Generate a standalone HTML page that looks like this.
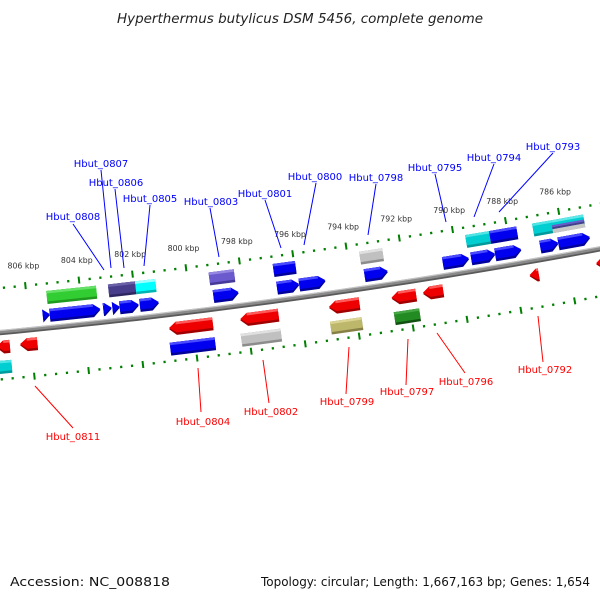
<!DOCTYPE html>
<html><head><meta charset="utf-8"><title>Hyperthermus butylicus genome map</title>
<style>
html,body{margin:0;padding:0;background:#fff;}
svg{display:block;font-family:"DejaVu Sans","Liberation Sans",sans-serif;}
</style></head>
<body>
<svg id="chart" width="600" height="600" viewBox="0 0 600 600" xmlns="http://www.w3.org/2000/svg">
<rect width="600" height="600" fill="#fff"/>
<text x="300" y="23" text-anchor="middle" font-size="13" font-style="italic" fill="#222" textLength="366" lengthAdjust="spacingAndGlyphs">Hyperthermus butylicus DSM 5456, complete genome</text>
<g id="axis"></g>
<g id="genes"></g>
<g id="labels">
 <g fill="#0000ff" font-size="10" text-anchor="middle">
  <line x1="101" y1="170" x2="111" y2="268" stroke="#0000ff" stroke-width="1"/>
  <text x="101" y="167">Hbut_0807</text>
  <line x1="115" y1="189" x2="124" y2="268" stroke="#0000ff" stroke-width="1"/>
  <text x="116" y="186">Hbut_0806</text>
  <line x1="150" y1="205" x2="144" y2="266" stroke="#0000ff" stroke-width="1"/>
  <text x="150" y="202">Hbut_0805</text>
  <line x1="73" y1="224" x2="104" y2="270" stroke="#0000ff" stroke-width="1"/>
  <text x="73" y="220">Hbut_0808</text>
  <line x1="210" y1="208" x2="219" y2="257" stroke="#0000ff" stroke-width="1"/>
  <text x="211" y="205">Hbut_0803</text>
  <line x1="265" y1="200" x2="281" y2="248" stroke="#0000ff" stroke-width="1"/>
  <text x="265" y="197">Hbut_0801</text>
  <line x1="316" y1="183" x2="304" y2="245" stroke="#0000ff" stroke-width="1"/>
  <text x="315" y="180">Hbut_0800</text>
  <line x1="376" y1="184" x2="368" y2="235" stroke="#0000ff" stroke-width="1"/>
  <text x="376" y="181">Hbut_0798</text>
  <line x1="435" y1="174" x2="446" y2="222" stroke="#0000ff" stroke-width="1"/>
  <text x="435" y="171">Hbut_0795</text>
  <line x1="494" y1="164" x2="474" y2="217" stroke="#0000ff" stroke-width="1"/>
  <text x="494" y="161">Hbut_0794</text>
  <line x1="553" y1="153" x2="499" y2="212" stroke="#0000ff" stroke-width="1"/>
  <text x="553" y="150">Hbut_0793</text>
 </g>
 <g fill="#ff0000" font-size="10" text-anchor="middle">
  <line x1="35" y1="386" x2="73" y2="428" stroke="#ff0000" stroke-width="1"/>
  <text x="73" y="440">Hbut_0811</text>
  <line x1="198" y1="368" x2="201" y2="412" stroke="#ff0000" stroke-width="1"/>
  <text x="203" y="425">Hbut_0804</text>
  <line x1="263" y1="360" x2="269" y2="403" stroke="#ff0000" stroke-width="1"/>
  <text x="271" y="415">Hbut_0802</text>
  <line x1="349" y1="347" x2="346" y2="394" stroke="#ff0000" stroke-width="1"/>
  <text x="347" y="405">Hbut_0799</text>
  <line x1="408" y1="339" x2="406" y2="385" stroke="#ff0000" stroke-width="1"/>
  <text x="407" y="395">Hbut_0797</text>
  <line x1="437" y1="333" x2="465" y2="373" stroke="#ff0000" stroke-width="1"/>
  <text x="466" y="385">Hbut_0796</text>
  <line x1="538" y1="316" x2="543" y2="362" stroke="#ff0000" stroke-width="1"/>
  <text x="545" y="373">Hbut_0792</text>
 </g>
</g>
<text x="10" y="586" font-size="12.5" fill="#111" textLength="160" lengthAdjust="spacingAndGlyphs">Accession: NC_008818</text>
<text x="590" y="586" font-size="12.5" fill="#111" text-anchor="end" textLength="329" lengthAdjust="spacingAndGlyphs">Topology: circular; Length: 1,667,163 bp; Genes: 1,654</text>
</svg>
<script>
// ---- data ----
const tickLabels = [806, 804, 802, 800, 798, 796, 794, 792, 790, 788, 786];
const geneStart = [805.47,805.21,803.22,802.88,802.61,801.86,799.12,796.75,795.92,793.48,790.55,789.49,788.59,786.90,786.22,
                   805.25,802.95,801.94,799.19,796.79,793.55,789.57,788.67,787.05,786.34,
                   807.28,806.41,800.89,798.25,794.95,792.62,791.45,787.47,784.98,
                   807.36,800.93,798.30,794.99,792.62,784.91];
const geneEnd   = [805.21,803.33,802.91,802.61,801.90,801.15,798.18,795.92,794.94,792.61,789.57,788.59,787.61,786.22,785.03,
                   803.40,801.94,801.19,798.25,795.96,792.69,788.67,787.65,786.34,785.13,
                   806.79,805.77,799.27,796.83,793.82,791.71,790.70,787.13,784.30,
                   806.79,799.27,796.83,793.82,791.68,784.30];
const geneRow   = ['u1','u1','u1','u1','u1','u1','u1','u1','u1','u1','u1','u1','u1','u1','u1',
                   'u2','u2','u2','u2','u2','u2','u2','u2','u2','u2',
                   'l1','l1','l1','l1','l1','l1','l1','l1','l1',
                   'l2','l2','l2','l2','l2','l2'];
const geneColor = ['blue','blue','blue','blue','blue','blue','blue','blue','blue','blue','blue','blue','blue','blue','blue',
                   'lime','dslate','cyan','slate','blue','silver','dturq','blue','dturq','mixed',
                   'red','red','red','red','red','red','red','red','red',
                   'dturq','blue','silver','khaki','forest','gray'];
const geneShape = ['R','R','R','R','R','R','R','R','R','R','R','R','R','R','R',
                   'B','B','B','B','B','B','B','B','B','B',
                   'L','L','L','L','L','L','L','L','L',
                   'B','B','B','B','B','B'];

// ---- geometry ----
const NS = 'http://www.w3.org/2000/svg';
const CX = -649, CY = -6507, R0 = 6870;
const rows = {u1:[-18.5,-5.5], u2:[-36.5,-23.5], l1:[8.5,21.5], l2:[28.5,41.5]};
const palette = {
  blue:['#4a4aff','#0000ee','#00009a'], red:['#ff5a5a','#ee0000','#a00000'],
  lime:['#66e066','#32cd32','#1f9a1f'], dslate:['#6a60a8','#483d8b','#2e2660'],
  cyan:['#9affff','#00ffff','#00b4b4'], dturq:['#50e4e4','#00ced1','#009a9c'],
  slate:['#9586e2','#6a5acd','#463a98'], silver:['#e0e0e0','#c0c0c0','#8c8c8c'],
  khaki:['#dad392','#bdb76b','#868046'], forest:['#44a644','#228b22','#125012'],
  gray:['#a4a4a4','#808080','#4c4c4c'], mixed:['#60e8e8','#00ced1','#8080a0']
};
function ang(k){ return (84.33 - (806 - k) * 0.226) * Math.PI / 180; }
function pt(k, off){ const a = ang(k), r = R0 + off; return [CX + r*Math.cos(a), CY + r*Math.sin(a)]; }
function ptsStr(list){ return list.map(p => p[0].toFixed(2)+','+p[1].toFixed(2)).join(' '); }
function poly(parent, list, fill, name){
  const p = document.createElementNS(NS,'polygon');
  p.setAttribute('points', ptsStr(list));
  p.setAttribute('fill', fill);
  
  
  parent.appendChild(p);
  return p;
}
function shape(kA, kB, o1, o2, kind){
  const kl = Math.max(kA,kB), kr = Math.min(kA,kB), h = 0.26, m = (o1+o2)/2;
  if (kind === 'B') return [pt(kl,o1), pt(kr,o1), pt(kr,o2), pt(kl,o2)];
  if (kl - kr <= h) {
    if (kind === 'R') return [pt(kl,o1), pt(kr,m), pt(kl,o2)];
    return [pt(kr,o1), pt(kl,m), pt(kr,o2)];
  }
  if (kind === 'R') return [pt(kl,o1), pt(kr+h,o1), pt(kr,m), pt(kr+h,o2), pt(kl,o2)];
  return [pt(kr,o1), pt(kl-h,o1), pt(kl,m), pt(kl-h,o2), pt(kr,o2)];
}

// ---- axis: backbone + tick lines ----
const axis = document.getElementById('axis');
function arc(off, w, color, name){
  const pl = document.createElementNS(NS,'polyline');
  const list = [];
  for (let k = 808.5; k >= 783; k -= 0.5) list.push(pt(k, off));
  pl.setAttribute('points', ptsStr(list));
  pl.setAttribute('fill','none');
  pl.setAttribute('stroke', color);
  pl.setAttribute('stroke-width', w);
  
  
  axis.appendChild(pl);
}
arc(0.5, 5, '#5a5a5a', 'backbone-shadow');
arc(-0.5, 3.5, '#8a8a8a', 'backbone');
arc(-1.8, 1.2, '#c4c4c4', 'backbone-highlight');

function tick(k, off, len, w, name){
  const a = pt(k, off - len/2), b = pt(k, off + len/2);
  const l = document.createElementNS(NS,'line');
  l.setAttribute('x1', a[0].toFixed(2)); l.setAttribute('y1', a[1].toFixed(2));
  l.setAttribute('x2', b[0].toFixed(2)); l.setAttribute('y2', b[1].toFixed(2));
  l.setAttribute('stroke', '#008000'); l.setAttribute('stroke-width', w);
  
  
  axis.appendChild(l);
}
const majorSet = new Set(tickLabels.map(v => Math.round(v*10)));
for (let i = 0; i <= 60; i++) {
  const k = Math.round((808.0 - i*0.4)*10)/10;
  const isMajor = majorSet.has(Math.round(k*10)) || (Math.round(k*10) % 20 === 0);
  [-44, 47].forEach(off => {
    if (isMajor) tick(k, off, 7, 2, 'major-tick');
    else tick(k, off, 2.4, 2.2, 'minor-tick');
  });
}
tickLabels.forEach(k => {
  const p = pt(k, -64);
  const t = document.createElementNS(NS,'text');
  t.setAttribute('x', p[0].toFixed(1)); t.setAttribute('y', (p[1]+3).toFixed(1));
  t.setAttribute('text-anchor','middle'); t.setAttribute('font-size','7.8');
  t.setAttribute('fill','#333');
  
  
  t.textContent = k + ' kbp';
  axis.appendChild(t);
});

// ---- genes ----
const genesG = document.getElementById('genes');
for (let i = 0; i < geneStart.length; i++) {
  const [o1, o2] = rows[geneRow[i]];
  const kind = geneShape[i];
  const pal = palette[geneColor[i]];
  const g = document.createElementNS(NS,'g');
  
  
  genesG.appendChild(g);
  poly(g, shape(geneStart[i], geneEnd[i], o1, o2, kind), pal[2], 'gene-shadow');
  poly(g, shape(geneStart[i], geneEnd[i], o1, o2 - 2.5, kind), pal[1], 'gene-body');
  const kl = Math.max(geneStart[i], geneEnd[i]), kr = Math.min(geneStart[i], geneEnd[i]);
  let a = kl, b = kr;
  if (kind === 'R') b = Math.min(kl, kr + 0.26);
  if (kind === 'L') a = Math.max(kr, kl - 0.26);
  if (a - b > 0.05) poly(g, shape(a, b, o1, o1 + 2.5, 'B'), pal[0], 'gene-highlight');
  if (geneColor[i] === 'mixed') {
    poly(g, shape(kl, kr, o1 + 5, o1 + 7, 'B'), '#6a5acd', 'gene-stripe');
    poly(g, shape(kl, kr, o1 + 7, o1 + 9, 'B'), '#483d8b', 'gene-stripe');
    poly(g, shape(kl, kr, o1 + 9, o2, 'B'), '#c8c8c8', 'gene-stripe');
  }
}
</script>
</body></html>
